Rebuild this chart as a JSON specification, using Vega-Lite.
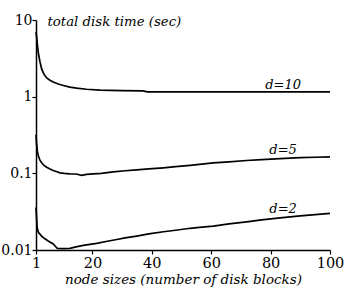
{
  "$schema": "https://vega.github.io/schema/vega-lite/v6.json",
  "width": 294,
  "height": 230,
  "autosize": {"type": "none"},
  "padding": {"left": 36, "top": 20, "right": 16, "bottom": 43},
  "background": "white",
  "config": {
    "view": {"stroke": null},
    "font": "DejaVu Serif",
    "axis": {
      "domainColor": "black",
      "domainWidth": 1.5,
      "tickColor": "black",
      "tickWidth": 1.2,
      "labelColor": "black",
      "titleColor": "black",
      "labelFont": "DejaVu Serif",
      "titleFont": "DejaVu Serif",
      "grid": false
    }
  },
  "datasets": {
    "curves": [
      {"x": 1, "v": 7.0, "d": "d=10"},
      {"x": 1.2, "v": 6.1, "d": "d=10"},
      {"x": 1.5, "v": 4.6, "d": "d=10"},
      {"x": 1.8, "v": 3.7, "d": "d=10"},
      {"x": 2.3, "v": 2.9, "d": "d=10"},
      {"x": 2.9, "v": 2.3, "d": "d=10"},
      {"x": 3.7, "v": 1.95, "d": "d=10"},
      {"x": 4.6, "v": 1.76, "d": "d=10"},
      {"x": 5.7, "v": 1.64, "d": "d=10"},
      {"x": 6.8, "v": 1.55, "d": "d=10"},
      {"x": 8.5, "v": 1.46, "d": "d=10"},
      {"x": 10.2, "v": 1.4, "d": "d=10"},
      {"x": 12.4, "v": 1.33, "d": "d=10"},
      {"x": 14.7, "v": 1.29, "d": "d=10"},
      {"x": 18, "v": 1.25, "d": "d=10"},
      {"x": 22.5, "v": 1.22, "d": "d=10"},
      {"x": 30, "v": 1.2, "d": "d=10"},
      {"x": 37, "v": 1.19, "d": "d=10"},
      {"x": 38.5, "v": 1.155, "d": "d=10"},
      {"x": 50, "v": 1.155, "d": "d=10"},
      {"x": 60, "v": 1.155, "d": "d=10"},
      {"x": 70, "v": 1.155, "d": "d=10"},
      {"x": 80, "v": 1.155, "d": "d=10"},
      {"x": 90, "v": 1.155, "d": "d=10"},
      {"x": 100, "v": 1.155, "d": "d=10"},
      {"x": 1, "v": 0.32, "d": "d=5"},
      {"x": 1.2, "v": 0.24, "d": "d=5"},
      {"x": 1.5, "v": 0.19, "d": "d=5"},
      {"x": 1.8, "v": 0.168, "d": "d=5"},
      {"x": 2.3, "v": 0.15, "d": "d=5"},
      {"x": 2.9, "v": 0.137, "d": "d=5"},
      {"x": 3.7, "v": 0.127, "d": "d=5"},
      {"x": 4.6, "v": 0.12, "d": "d=5"},
      {"x": 5.7, "v": 0.114, "d": "d=5"},
      {"x": 6.8, "v": 0.109, "d": "d=5"},
      {"x": 8, "v": 0.105, "d": "d=5"},
      {"x": 9.1, "v": 0.1016, "d": "d=5"},
      {"x": 10.5, "v": 0.1, "d": "d=5"},
      {"x": 12.4, "v": 0.0986, "d": "d=5"},
      {"x": 14.5, "v": 0.098, "d": "d=5"},
      {"x": 16.4, "v": 0.094, "d": "d=5"},
      {"x": 18, "v": 0.097, "d": "d=5"},
      {"x": 20.3, "v": 0.0986, "d": "d=5"},
      {"x": 23, "v": 0.1, "d": "d=5"},
      {"x": 27, "v": 0.1046, "d": "d=5"},
      {"x": 31, "v": 0.108, "d": "d=5"},
      {"x": 34.9, "v": 0.111, "d": "d=5"},
      {"x": 39, "v": 0.114, "d": "d=5"},
      {"x": 43.9, "v": 0.118, "d": "d=5"},
      {"x": 48, "v": 0.122, "d": "d=5"},
      {"x": 52.9, "v": 0.127, "d": "d=5"},
      {"x": 56, "v": 0.131, "d": "d=5"},
      {"x": 60.7, "v": 0.137, "d": "d=5"},
      {"x": 66, "v": 0.141, "d": "d=5"},
      {"x": 71.9, "v": 0.147, "d": "d=5"},
      {"x": 77, "v": 0.151, "d": "d=5"},
      {"x": 83.2, "v": 0.156, "d": "d=5"},
      {"x": 90, "v": 0.16, "d": "d=5"},
      {"x": 95, "v": 0.162, "d": "d=5"},
      {"x": 100, "v": 0.164, "d": "d=5"},
      {"x": 1, "v": 0.036, "d": "d=2"},
      {"x": 1.2, "v": 0.026, "d": "d=2"},
      {"x": 1.4, "v": 0.0195, "d": "d=2"},
      {"x": 1.8, "v": 0.017, "d": "d=2"},
      {"x": 2.9, "v": 0.0152, "d": "d=2"},
      {"x": 4, "v": 0.014, "d": "d=2"},
      {"x": 5.1, "v": 0.0131, "d": "d=2"},
      {"x": 6.8, "v": 0.012, "d": "d=2"},
      {"x": 7.5, "v": 0.0112, "d": "d=2"},
      {"x": 8.2, "v": 0.0105, "d": "d=2"},
      {"x": 10, "v": 0.0104, "d": "d=2"},
      {"x": 12.4, "v": 0.0105, "d": "d=2"},
      {"x": 14.5, "v": 0.011, "d": "d=2"},
      {"x": 16.9, "v": 0.0115, "d": "d=2"},
      {"x": 21.4, "v": 0.0122, "d": "d=2"},
      {"x": 25, "v": 0.013, "d": "d=2"},
      {"x": 28.2, "v": 0.0137, "d": "d=2"},
      {"x": 31, "v": 0.0144, "d": "d=2"},
      {"x": 34.9, "v": 0.0152, "d": "d=2"},
      {"x": 39, "v": 0.0162, "d": "d=2"},
      {"x": 43.9, "v": 0.0173, "d": "d=2"},
      {"x": 48, "v": 0.0181, "d": "d=2"},
      {"x": 52.9, "v": 0.0192, "d": "d=2"},
      {"x": 56, "v": 0.0197, "d": "d=2"},
      {"x": 60.7, "v": 0.0205, "d": "d=2"},
      {"x": 66, "v": 0.0219, "d": "d=2"},
      {"x": 71.9, "v": 0.0233, "d": "d=2"},
      {"x": 77, "v": 0.0247, "d": "d=2"},
      {"x": 83.2, "v": 0.0263, "d": "d=2"},
      {"x": 90, "v": 0.0278, "d": "d=2"},
      {"x": 95, "v": 0.029, "d": "d=2"},
      {"x": 100, "v": 0.03, "d": "d=2"}
    ],
    "labels": [
      {"label": "d=10", "x": 84.2, "v": 1.25},
      {"label": "d=5", "x": 84.2, "v": 0.178},
      {"label": "d=2", "x": 84.2, "v": 0.0303}
    ]
  },
  "layer": [
    {
      "data": {"name": "curves"},
      "mark": {"type": "line", "color": "black", "strokeWidth": 1.7, "interpolate": "linear"},
      "encoding": {
        "x": {
          "field": "x",
          "type": "quantitative",
          "scale": {"domain": [1, 100], "nice": false, "zero": false},
          "axis": {
            "values": [1, 20, 40, 60, 80, 100],
            "title": "node sizes (number of disk blocks)",
            "titleFontStyle": "italic",
            "titleFontWeight": "normal",
            "titleFontSize": 13.5,
            "titlePadding": 3,
            "labelFontSize": 14.5,
            "labelPadding": 2,
            "tickSize": 4,
            "labelFlush": false
          }
        },
        "y": {
          "field": "v",
          "type": "quantitative",
          "scale": {"type": "log", "domain": [0.01, 10], "nice": false},
          "axis": {
            "values": [0.01, 0.1, 1, 10],
            "format": "~g",
            "title": "total disk time (sec)",
            "titleAngle": 0,
            "titleAlign": "left",
            "titleBaseline": "alphabetic",
            "titleX": 11,
            "titleY": 5,
            "titleFontStyle": "italic",
            "titleFontWeight": "normal",
            "titleFontSize": 13.3,
            "labelFontSize": 14,
            "labelPadding": 0,
            "tickSize": 4,
            "labelFlush": false
          }
        },
        "detail": {"field": "d", "type": "nominal"}
      }
    },
    {
      "data": {"name": "labels"},
      "mark": {"type": "text", "font": "DejaVu Serif", "fontStyle": "italic", "fontSize": 13, "align": "center", "baseline": "alphabetic", "color": "black"},
      "encoding": {
        "x": {"field": "x", "type": "quantitative"},
        "y": {"field": "v", "type": "quantitative"},
        "text": {"field": "label", "type": "nominal"}
      }
    }
  ]
}
